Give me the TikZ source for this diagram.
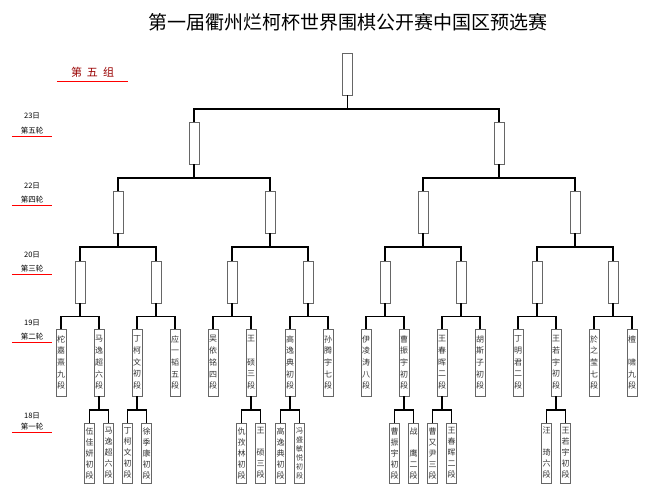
\documentclass[tikz,border=0pt]{standalone}
\usepackage{fontspec}
\setmainfont{Noto Sans CJK SC}
\begin{document}
\begin{tikzpicture}[x=1pt,y=-1pt,
  link/.style={line width=1.6pt,black},
  slot/.style={draw=black!60,line width=0.9pt,minimum width=10pt,minimum height=42pt,inner sep=0pt},
  player/.style={slot,minimum height=67pt,text width=10pt,align=center,text=black!80,font=\fontsize{8}{11.7}\selectfont},
  opener/.style={player,minimum height=60pt,font=\fontsize{8}{11}\selectfont},
  day/.style={font=\fontsize{7.5}{7.5}\selectfont,inner sep=0pt},
  rnd/.style={font=\fontsize{7.5}{7.5}\selectfont,minimum width=40pt,minimum height=12pt,inner sep=0pt},
  redline/.style={red,line width=1.3pt}]
\useasboundingbox (0,0) rectangle (650,496);
\node[font=\fontsize{19}{19}\selectfont,inner sep=0pt] (title) at (348,22) {第一届衢州烂柯杯世界围棋公开赛中国区预选赛};
\node[text=red!60!black,font=\fontsize{11}{11}\selectfont,minimum width=71pt,minimum height=17pt,inner sep=0pt] (grp) at (92.5,72.5) {第\hspace{5pt}五\hspace{5pt}组};
\draw[redline] (grp.south west) -- (grp.south east);
% rounds down the left side
\node[day] (d5) at (32,116) {23日};
\node[rnd] (r5) at (32,130.5) {第五轮};
\node[day] (d4) at (32,185.5) {22日};
\node[rnd] (r4) at (32,199.5) {第四轮};
\node[day] (d3) at (32,254.5) {20日};
\node[rnd] (r3) at (32,268.5) {第三轮};
\node[day] (d2) at (32,323) {19日};
\node[rnd] (r2) at (32,336.5) {第二轮};
\node[day] (d1) at (32,416) {18日};
\node[rnd] (r1) at (32,426.5) {第一轮};
\draw[redline] (r5.south west) -- (r5.south east);
\draw[redline] (r4.south west) -- (r4.south east);
\draw[redline] (r3.south west) -- (r3.south east);
\draw[redline] (r2.south west) -- (r2.south east);
\draw[redline] (r1.south west) -- (r1.south east);
% empty slots
\node[slot] (win) at (347.5,74) {};
\node[slot] (s1) at (194,143) {};
\node[slot] (s2) at (499,143) {};
\node[slot] (f1) at (118,212) {};
\node[slot] (f2) at (270,212) {};
\node[slot] (f3) at (423,212) {};
\node[slot] (f4) at (575,212) {};
\node[slot] (t1) at (80,282) {};
\node[slot] (t2) at (156,282) {};
\node[slot] (t3) at (232,282) {};
\node[slot] (t4) at (308,282) {};
\node[slot] (t5) at (385,282) {};
\node[slot] (t6) at (461,282) {};
\node[slot] (t7) at (537,282) {};
\node[slot] (t8) at (613,282) {};
% second round
\node[player] (p1) at (61,362.5) {柁\\嘉\\熹\\九\\段};
\node[player] (p2) at (99,362.5) {马\\逸\\超\\六\\段};
\node[player] (p3) at (137,362.5) {丁\\柯\\文\\初\\段};
\node[player] (p4) at (175,362.5) {应\\一\\韬\\五\\段};
\node[player] (p5) at (213,362.5) {吴\\依\\铭\\四\\段};
\node[player] (p6) at (251,362.5) {王\\~\\硕\\三\\段};
\node[player] (p7) at (290,362.5) {高\\逸\\典\\初\\段};
\node[player] (p8) at (328,362.5) {孙\\腾\\宇\\七\\段};
\node[player] (p9) at (366,362.5) {伊\\凌\\涛\\八\\段};
\node[player] (p10) at (404,362.5) {曹\\振\\宇\\初\\段};
\node[player] (p11) at (442,362.5) {王\\春\\晖\\二\\段};
\node[player] (p12) at (480,362.5) {胡\\斯\\子\\初\\段};
\node[player] (p13) at (518,362.5) {丁\\明\\君\\二\\段};
\node[player] (p14) at (556,362.5) {王\\若\\宇\\初\\段};
\node[player] (p15) at (594,362.5) {於\\之\\莹\\七\\段};
\node[player] (p16) at (632,362.5) {檀\\~\\啸\\九\\段};
% first round
\node[opener] (q1) at (89.5,453) {伍\\佳\\妍\\初\\段};
\node[opener] (q2) at (108.5,453) {马\\逸\\超\\六\\段};
\node[opener] (q3) at (127.5,453) {丁\\柯\\文\\初\\段};
\node[opener] (q4) at (146.5,453) {徐\\季\\康\\初\\段};
\node[opener] (q5) at (241.5,453) {仇\\孜\\林\\初\\段};
\node[opener] (q6) at (260.5,453) {王\\~\\硕\\三\\段};
\node[opener] (q7) at (280.5,453) {高\\逸\\典\\初\\段};
\node[opener,font=\fontsize{7}{9}\selectfont] (q8) at (299.5,453) {冯\\盛\\敏\\悦\\初\\段};
\node[opener] (q9) at (394.5,453) {曹\\振\\宇\\初\\段};
\node[opener] (q10) at (413.5,453) {战\\~\\鹰\\二\\段};
\node[opener] (q11) at (432.5,453) {曹\\又\\尹\\三\\段};
\node[opener] (q12) at (451.5,453) {王\\春\\晖\\二\\段};
\node[opener] (q13) at (546.5,453) {汪\\~\\琦\\六\\段};
\node[opener] (q14) at (565.5,453) {王\\若\\宇\\初\\段};
% brackets
\draw[link] (win.south) -- ++(0,13.5) -| (s1.north) (win.south) ++(0,13.5) -| (s2.north);
\draw[link] (s1.south) -- ++(0,13.5) -| (f1.north) (s1.south) ++(0,13.5) -| (f2.north);
\draw[link] (s2.south) -- ++(0,13.5) -| (f3.north) (s2.south) ++(0,13.5) -| (f4.north);
\draw[link] (f1.south) -- ++(0,13.5) -| (t1.north) (f1.south) ++(0,13.5) -| (t2.north);
\draw[link] (f2.south) -- ++(0,13.5) -| (t3.north) (f2.south) ++(0,13.5) -| (t4.north);
\draw[link] (f3.south) -- ++(0,13.5) -| (t5.north) (f3.south) ++(0,13.5) -| (t6.north);
\draw[link] (f4.south) -- ++(0,13.5) -| (t7.north) (f4.south) ++(0,13.5) -| (t8.north);
\draw[link] (t1.south) -- ++(0,13) -| (p1.north) (t1.south) ++(0,13) -| (p2.north);
\draw[link] (t2.south) -- ++(0,13) -| (p3.north) (t2.south) ++(0,13) -| (p4.north);
\draw[link] (t3.south) -- ++(0,13) -| (p5.north) (t3.south) ++(0,13) -| (p6.north);
\draw[link] (t4.south) -- ++(0,13) -| (p7.north) (t4.south) ++(0,13) -| (p8.north);
\draw[link] (t5.south) -- ++(0,13) -| (p9.north) (t5.south) ++(0,13) -| (p10.north);
\draw[link] (t6.south) -- ++(0,13) -| (p11.north) (t6.south) ++(0,13) -| (p12.north);
\draw[link] (t7.south) -- ++(0,13) -| (p13.north) (t7.south) ++(0,13) -| (p14.north);
\draw[link] (t8.south) -- ++(0,13) -| (p15.north) (t8.south) ++(0,13) -| (p16.north);
\draw[link] (p2.south) -- ++(0,13.5) -| (q1.north) (p2.south) ++(0,13.5) -| (q2.north);
\draw[link] (p3.south) -- ++(0,13.5) -| (q3.north) (p3.south) ++(0,13.5) -| (q4.north);
\draw[link] (p6.south) -- ++(0,13.5) -| (q5.north) (p6.south) ++(0,13.5) -| (q6.north);
\draw[link] (p7.south) -- ++(0,13.5) -| (q7.north) (p7.south) ++(0,13.5) -| (q8.north);
\draw[link] (p10.south) -- ++(0,13.5) -| (q9.north) (p10.south) ++(0,13.5) -| (q10.north);
\draw[link] (p11.south) -- ++(0,13.5) -| (q11.north) (p11.south) ++(0,13.5) -| (q12.north);
\draw[link] (p14.south) -- ++(0,13.5) -| (q13.north) (p14.south) ++(0,13.5) -| (q14.north);
\end{tikzpicture}
\end{document}
